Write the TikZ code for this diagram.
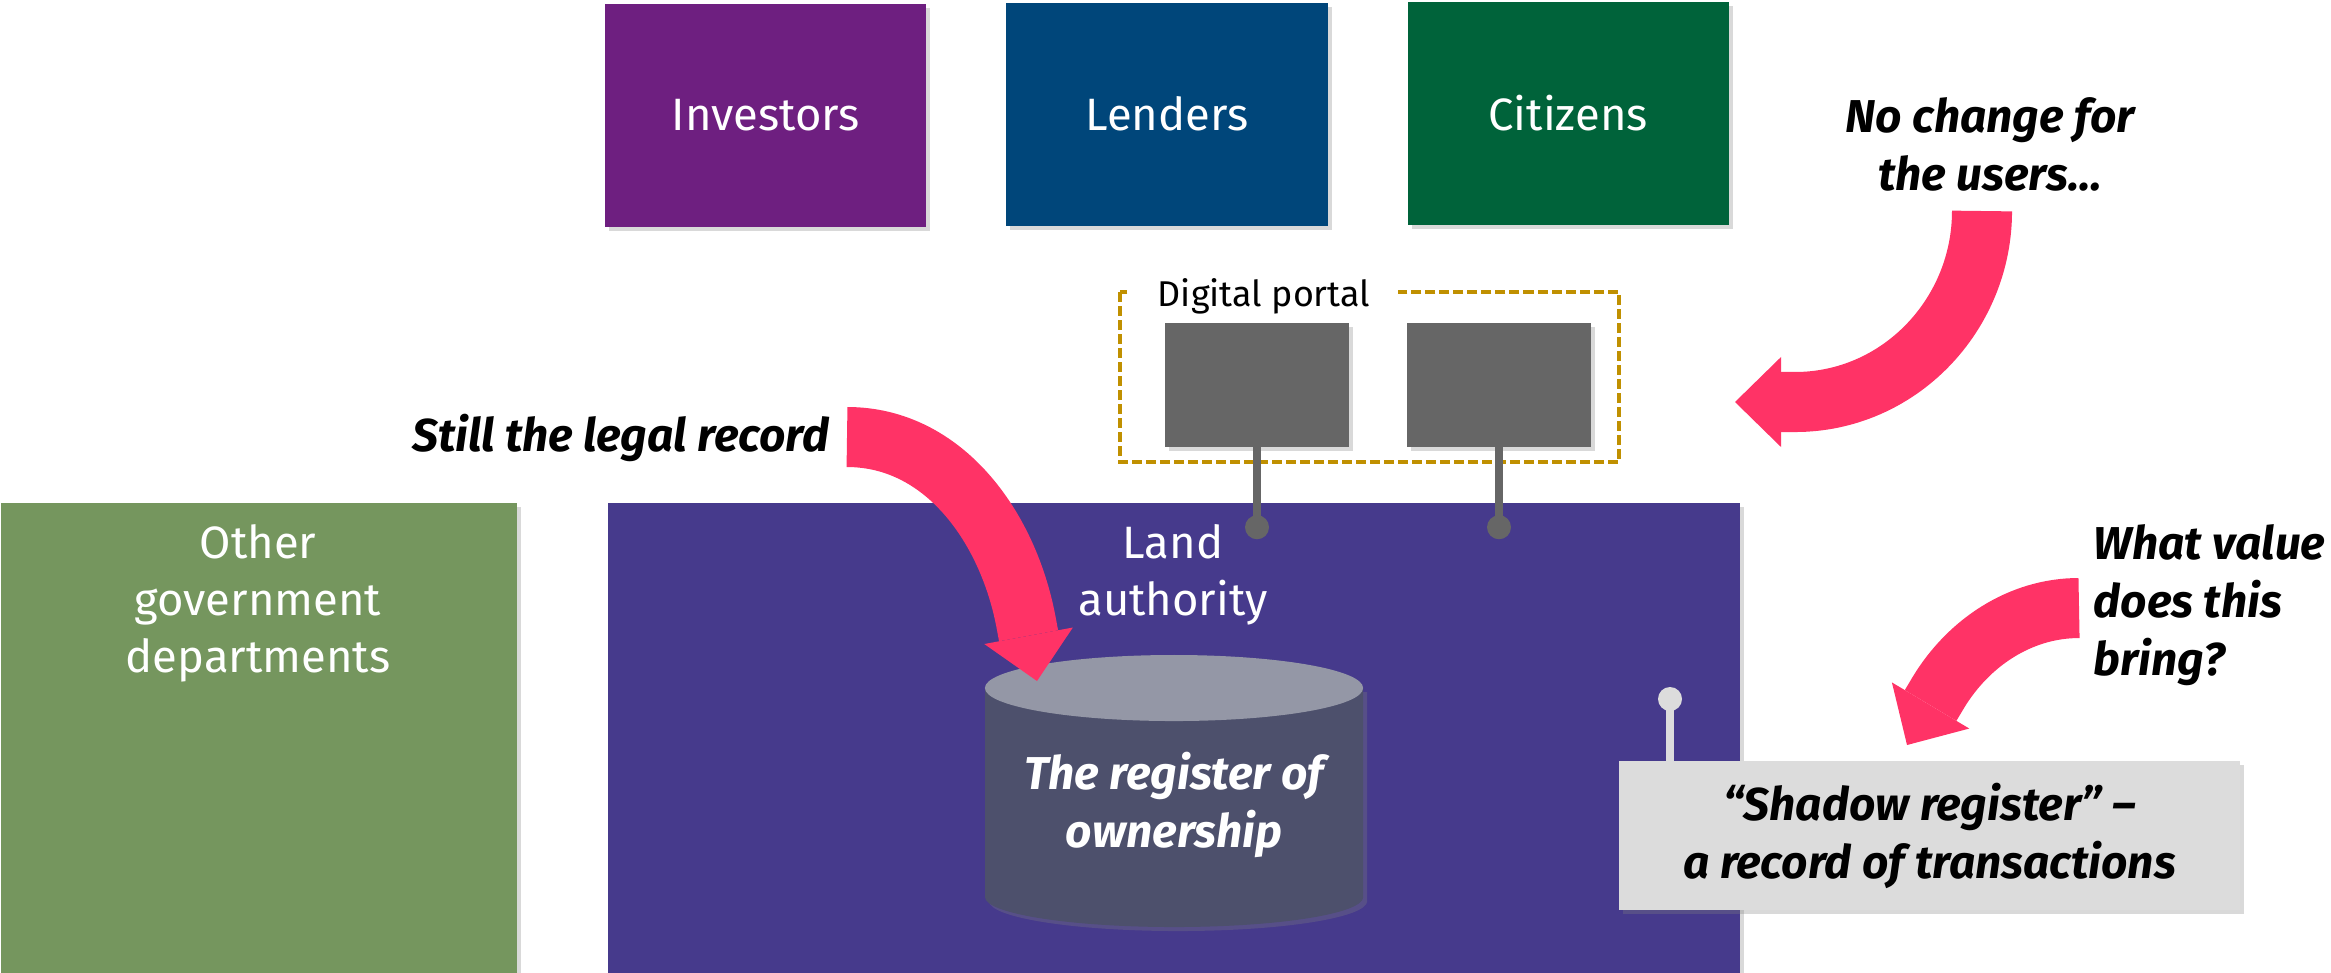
\documentclass[tikz,border=0pt]{standalone}
\usepackage{fontspec}
\setmainfont{Fira Sans}
\usepackage{tikz}
\usetikzlibrary{matrix,arrows.meta,positioning,shadows}

\definecolor{investors}{HTML}{6E1F80}
\definecolor{lenders}{HTML}{00467A}
\definecolor{citizens}{HTML}{00633A}
\definecolor{govgreen}{HTML}{75965E}
\definecolor{landblue}{HTML}{463A8C}
\definecolor{appgray}{HTML}{666666}
\definecolor{portalgold}{HTML}{C09000}
\definecolor{cyltop}{HTML}{9497A6}
\definecolor{cylbody}{HTML}{4D506C}
\definecolor{ledgergray}{HTML}{DCDCDC}
\definecolor{calloutpink}{HTML}{FF3366}

\tikzset{
  softshadow/.style={drop shadow={shadow xshift=0.04cm, shadow yshift=-0.04cm, opacity=0.3}},
  box/.style={rectangle, inner sep=0pt, text=white, softshadow,
    font=\fontsize{12.9}{16.2}\selectfont},
  userbox/.style={box, minimum width=3.21cm, minimum height=2.23cm},
  appbox/.style={box, fill=appgray, minimum width=1.83cm, minimum height=1.23cm},
  panel/.style={box, anchor=north west, minimum height=4.7cm},
  paneltext/.style={text=white, inner sep=0pt, align=center, anchor=north,
    font=\fontsize{12.9}{16.2}\selectfont},
  portal/.style={draw=portalgold, line width=0.045cm, dash pattern=on 0.1cm off 0.04cm},
  portaltag/.style={fill=white, inner xsep=0.28cm, inner ysep=0.02cm,
    font=\fontsize{10.2}{12}\selectfont},
  callout/.style={inner sep=0pt, font=\fontsize{13.1}{16.5}\selectfont\bfseries\itshape},
  bigarrow/.style={draw=calloutpink, line width=0.6cm,
    -{Triangle[length=0.46cm, width=0.9cm, line width=0pt]}},
  pin/.style={line width=0.08cm},
  dot/.style={circle, inner sep=0pt, minimum size=0.24cm},
}

\begin{document}
\begin{tikzpicture}[x=0.01cm, y=-0.01cm]
  \useasboundingbox (0,0) rectangle (2331,972);

  % users along the top
  \matrix (users) [matrix of nodes, column sep=0.8cm, inner sep=0pt, nodes={userbox}] at (1167,114.5)
  {
    |[fill=investors]| Investors & |[fill=lenders]| Lenders & |[fill=citizens]| Citizens \\ };

  % digital portal
  \draw[portal] (1120,292) rectangle (1619,462);
  \node[portaltag] (tag) at (1264,296) {Digital portal};
  \node[appbox] (app-a) at (1257,385) {};
  \node[appbox] (app-b) at (1499,385) {};

  % the two panels
  \node[panel, fill=govgreen, minimum width=5.16cm] (gov) at (0,502) {};
  \node[panel, fill=landblue, minimum width=11.32cm] (land) at (607,502) {};
  \node[paneltext] (gov-lbl) at (258,524) {Other\\government\\departments};
  \node[paneltext] (land-lbl) at (1173,524) {Land\\authority};

  \foreach \a in {app-a,app-b}
    \draw[pin, appgray] (\a.south) -- ++(0,80) node[dot, fill=appgray] (\a-dot) {};

  % register drum
  \fill[cylbody, softshadow] (985,688) -- (985,897)
    arc[start angle=180, end angle=360, x radius=1.89cm, y radius=0.3cm] -- (1363,688) -- cycle;
  \fill[cyltop] (1174,688) ellipse[x radius=1.89cm, y radius=0.33cm];
  \node[callout, text=white, align=center] (register) at (1174,805) {The register of\\ownership};

  % shadow register
  \coordinate (tap) at (1670,699);
  \draw[pin, ledgergray] (tap) -- ++(0,62);
  \node[dot, fill=ledgergray] (tap-dot) at (tap) {};
  \node[callout, fill=ledgergray, softshadow, align=center, minimum width=6.21cm,
    minimum height=1.49cm] (ledger) at (1929.5,835.5) {“Shadow register” –\\a record of transactions};

  % callouts
  \node[callout, anchor=base east] (legal) at (830,451) {Still the legal record};
  \node[callout, align=center] (nochange) at (1990,144) {No change for\\the users…};
  \node[callout, align=left, anchor=north west] (value) at (2093,524) {What value\\does this\\bring?};

  \coordinate (legal-from) at (847,437);    \coordinate (legal-to) at (1037,681);
  \coordinate (nochange-from) at (1982,211); \coordinate (nochange-to) at (1735,402);
  \coordinate (value-from) at (2079,608);   \coordinate (value-to) at (1907,745);

  \draw[bigarrow] (legal-from) .. controls (944,437) and (1008,527) .. (1026,622) -- (legal-to);
  \draw[bigarrow] (nochange-from) .. controls (1982,315) and (1899,402) .. (1795,402) -- (nochange-to);
  \draw[bigarrow] (value-from) .. controls (2020,608) and (1968,643) .. (1938,693) -- (value-to);
%  \draw[pin, appgray] (app-a.east) -- (app-b.west);
\end{tikzpicture}
\end{document}
